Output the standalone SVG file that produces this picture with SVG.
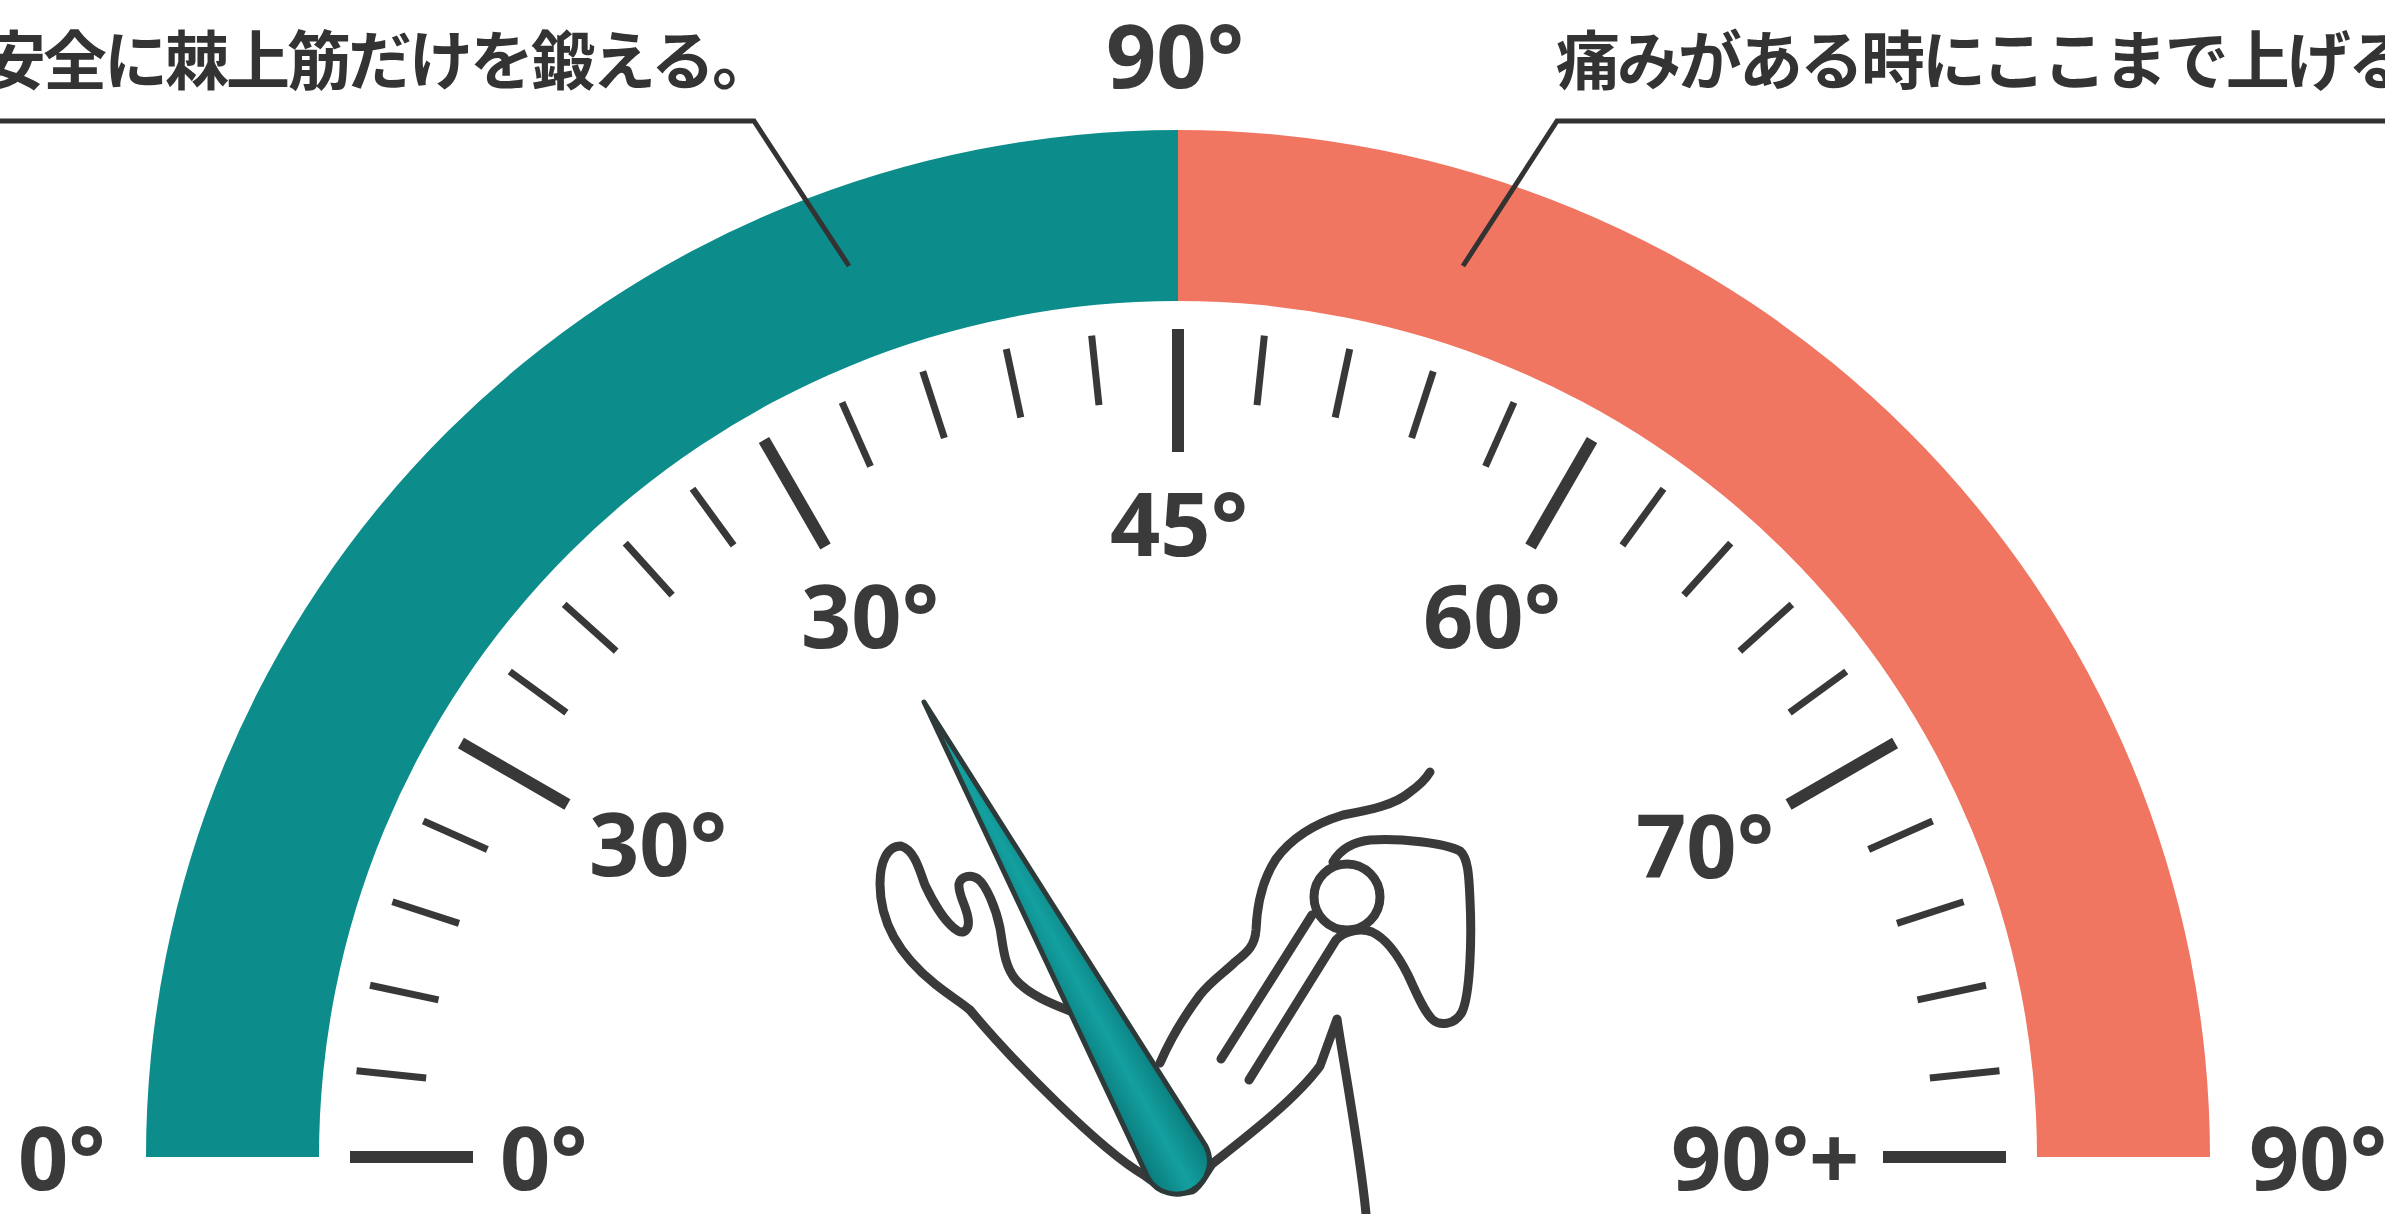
<svg xmlns="http://www.w3.org/2000/svg" xmlns:xlink="http://www.w3.org/1999/xlink" width="2385" height="1214" viewBox="0 0 2385 1214">
  <style>
    .lbl{font-family:"Noto Sans","Open Sans","Liberation Sans",sans-serif;font-weight:700;font-size:88px;fill:#3a3a3a}
    .jp{font-family:"Noto Sans CJK JP","Noto Sans",sans-serif;font-weight:700;font-size:64px;letter-spacing:-3px;fill:#333333}
    .minor{stroke:#383838;stroke-width:7}
    .major{stroke:#383838;stroke-width:12}
    .leader{fill:none;stroke:#333333;stroke-width:5;stroke-linejoin:miter}
    .limb{fill:none;stroke:#3a3a3a;stroke-width:9;stroke-linecap:round;stroke-linejoin:round}
  </style>
  <defs>
    <line id="tk" class="minor" x1="-826" y1="0" x2="-756" y2="0"/>
    <line id="tkM" class="major" x1="-828" y1="0" x2="-705" y2="0"/>
    <linearGradient id="needleFill" gradientUnits="userSpaceOnUse" x1="1148" y1="1178" x2="1206" y2="1146">
      <stop offset="0" stop-color="#0a7a7b"/>
      <stop offset="0.5" stop-color="#14a0a0"/>
      <stop offset="1" stop-color="#0a7a7b"/>
    </linearGradient>
  </defs>

  <rect width="2385" height="1214" fill="#ffffff"/>

  <!-- gauge bands -->
  <g id="band-safe">
    <path d="M146,1157 A1032,1027 0 0 1 1178,130 L1178,301 A859,856 0 0 0 319,1157 Z" fill="#0d8c8c"/>
  </g>
  <g id="band-pain">
    <path d="M1178,130 A1032,1027 0 0 1 2210,1157 L2037,1157 A859,856 0 0 0 1178,301 Z" fill="#f07662"/>
  </g>

  <!-- scale ticks, every 6 degrees, long ones every 30 -->
  <g id="scale-ticks" transform="translate(1178,1157)">
    <use xlink:href="#tkM" transform="rotate(0)"/>
    <use xlink:href="#tk" transform="rotate(6)"/>
    <use xlink:href="#tk" transform="rotate(12)"/>
    <use xlink:href="#tk" transform="rotate(18)"/>
    <use xlink:href="#tk" transform="rotate(24)"/>
    <use xlink:href="#tkM" transform="rotate(30)"/>
    <use xlink:href="#tk" transform="rotate(36)"/>
    <use xlink:href="#tk" transform="rotate(42)"/>
    <use xlink:href="#tk" transform="rotate(48)"/>
    <use xlink:href="#tk" transform="rotate(54)"/>
    <use xlink:href="#tkM" transform="rotate(60)"/>
    <use xlink:href="#tk" transform="rotate(66)"/>
    <use xlink:href="#tk" transform="rotate(72)"/>
    <use xlink:href="#tk" transform="rotate(78)"/>
    <use xlink:href="#tk" transform="rotate(84)"/>
    <use xlink:href="#tkM" transform="rotate(90)"/>
    <use xlink:href="#tk" transform="rotate(96)"/>
    <use xlink:href="#tk" transform="rotate(102)"/>
    <use xlink:href="#tk" transform="rotate(108)"/>
    <use xlink:href="#tk" transform="rotate(114)"/>
    <use xlink:href="#tkM" transform="rotate(120)"/>
    <use xlink:href="#tk" transform="rotate(126)"/>
    <use xlink:href="#tk" transform="rotate(132)"/>
    <use xlink:href="#tk" transform="rotate(138)"/>
    <use xlink:href="#tk" transform="rotate(144)"/>
    <use xlink:href="#tkM" transform="rotate(150)"/>
    <use xlink:href="#tk" transform="rotate(156)"/>
    <use xlink:href="#tk" transform="rotate(162)"/>
    <use xlink:href="#tk" transform="rotate(168)"/>
    <use xlink:href="#tk" transform="rotate(174)"/>
    <use xlink:href="#tkM" transform="rotate(180)"/>
  </g>

  <!-- degree labels -->
  <g id="label-outer-0"><text class="lbl" x="18" y="1190">0°</text></g>
  <g id="label-outer-90"><text class="lbl" x="2249" y="1190">90°</text></g>
  <g id="label-top-90"><text class="lbl" x="1106" y="88">90°</text></g>
  <g id="label-inner-0"><text class="lbl" x="500" y="1190">0°</text></g>
  <g id="label-inner-30a"><text class="lbl" x="589" y="876">30°</text></g>
  <g id="label-inner-30b"><text class="lbl" x="801" y="648">30°</text></g>
  <g id="label-inner-45"><text class="lbl" x="1110" y="556">45°</text></g>
  <g id="label-inner-60"><text class="lbl" x="1423" y="648">60°</text></g>
  <g id="label-inner-70"><text class="lbl" x="1636" y="878">70°</text></g>
  <g id="label-inner-90plus"><text class="lbl" x="1671" y="1190">90°+</text></g>

  <!-- callouts -->
  <g id="callout-safe"><text class="jp" x="-18" y="84">安全に棘上筋だけを鍛える。</text></g>
  <g id="callout-pain"><text class="jp" x="1556" y="84">痛みがある時にここまで上げる</text></g>

  <g id="connectors">
    <polyline class="leader" points="0,121 754,121 849,266"/>
    <polyline class="leader" points="2385,121 1557,121 1463,266"/>
  </g>

  <!-- arm line drawing -->
  <g id="arm">
    <path class="limb" d="M1075,1013 C1055,1005 1030,996 1016,980 C1004,966 1003,945 1000,928 C996,908 986,885 978,879 C971,874 961,876 959,884 C958,895 966,905 968,918 C970,930 964,934 958,931 C945,923 932,900 925,885 C920,872 915,850 901,846 C887,846 880,862 880,884 C880,918 895,952 935,984 C950,996 962,1003 970,1010 C1010,1058 1100,1150 1144,1175 C1160,1188 1178,1194 1192,1190 C1200,1186 1206,1172 1212,1164 C1245,1138 1295,1100 1320,1066 L1337,1019 C1343,1060 1360,1150 1366,1214"/>
    <path class="limb" d="M1160,1063 C1170,1040 1185,1015 1200,995 C1212,980 1225,972 1235,962 C1248,952 1255,945 1256,930 C1257,905 1262,880 1276,859 C1290,840 1310,825 1343,815 C1370,810 1395,805 1410,792 C1420,785 1427,777 1430,772"/>
    <path class="limb" d="M1249,1080 L1336,940 C1345,930 1362,928 1372,932 C1385,938 1398,955 1408,975 C1416,992 1424,1012 1433,1020 C1440,1026 1455,1025 1462,1012 C1470,995 1472,940 1470,900 C1469,875 1468,858 1460,851 C1445,843 1400,838 1370,840 C1352,842 1340,850 1333,862"/>
    <circle class="limb" cx="1347" cy="897" r="33"/>
    <path class="limb" d="M1312,915 L1221,1059"/>
  </g>

  <!-- pointer -->
  <g id="needle">
    <path d="M924,702 L1205.9,1146.1 A33,33 0 0 1 1148.1,1177.9 Z" fill="url(#needleFill)" stroke="#2e3a3a" stroke-width="5" stroke-linejoin="round"/>
  </g>
</svg>
